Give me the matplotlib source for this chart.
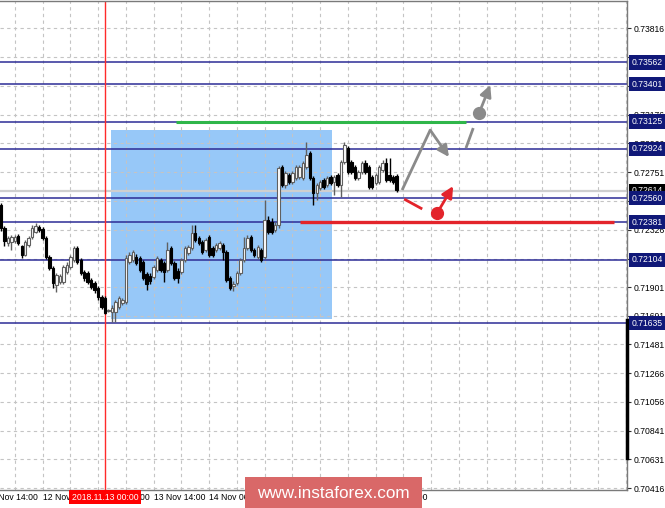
import numpy as np
import matplotlib
matplotlib.use('Agg')
import matplotlib.pyplot as plt
from matplotlib.patches import Rectangle

plt.rcParams['font.family'] = ['Liberation Sans', 'DejaVu Sans']

# hourly candles, x = hours from 2018.11.13 00:00
hours = np.arange(-30, 85)

opens = [0.72508, 0.72338, 0.72227, 0.72235, 0.72242, 0.72279, 0.72205, 0.72139, 0.72212, 0.72272,
         0.72309, 0.72345, 0.72331, 0.72264, 0.72124, 0.72042, 0.71917, 0.71939, 0.71939, 0.72013,
         0.72050, 0.72102, 0.72190, 0.72102, 0.72013, 0.72006, 0.71954, 0.71932, 0.71895, 0.71828,
         0.71821, 0.71725, 0.71717, 0.71717, 0.71754, 0.71784, 0.71791, 0.72087, 0.72102, 0.72124,
         0.72116, 0.72087, 0.71998, 0.71983, 0.71976, 0.72028, 0.72102, 0.72079, 0.72028, 0.72190,
         0.72079, 0.72020, 0.72013, 0.72102, 0.72153, 0.72190, 0.72301, 0.72264, 0.72235, 0.72175,
         0.72272, 0.72190, 0.72175, 0.72190, 0.72212, 0.72161, 0.71969, 0.71909, 0.71932, 0.72006,
         0.72102, 0.72190, 0.72272, 0.72175, 0.72124, 0.72175, 0.72124, 0.72397, 0.72382, 0.72323,
         0.72360, 0.72789, 0.72656, 0.72730, 0.72678, 0.72708, 0.72715, 0.72708, 0.72789, 0.72892,
         0.72708, 0.72597, 0.72634, 0.72693, 0.72656, 0.72715, 0.72678, 0.72730, 0.72656, 0.72826,
         0.72929, 0.72826, 0.72789, 0.72708, 0.72752, 0.72818, 0.72789, 0.72715, 0.72671, 0.72678,
         0.72767, 0.72818, 0.72730, 0.72715, 0.72722]
highs = [0.72523, 0.72353, 0.72279, 0.72286, 0.72286, 0.72294, 0.72212, 0.72249, 0.72279, 0.72360,
         0.72375, 0.72360, 0.72345, 0.72279, 0.72139, 0.72057, 0.72006, 0.71998, 0.72065, 0.72087,
         0.72139, 0.72205, 0.72205, 0.72116, 0.72028, 0.72020, 0.71969, 0.71946, 0.71909, 0.71843,
         0.71836, 0.71739, 0.71769, 0.71806, 0.71836, 0.71821, 0.72139, 0.72161, 0.72175, 0.72146,
         0.72131, 0.72102, 0.72013, 0.72006, 0.72065, 0.72131, 0.72116, 0.72094, 0.72235, 0.72205,
         0.72094, 0.72042, 0.72116, 0.72205, 0.72212, 0.72360, 0.72360, 0.72279, 0.72249, 0.72264,
         0.72286, 0.72205, 0.72227, 0.72242, 0.72227, 0.72175, 0.71983, 0.71946, 0.72020, 0.72116,
         0.72272, 0.72286, 0.72286, 0.72190, 0.72212, 0.72190, 0.72545, 0.72427, 0.72412, 0.72382,
         0.72796, 0.72804, 0.72759, 0.72745, 0.72759, 0.72804, 0.72804, 0.72833, 0.72974, 0.72907,
         0.72722, 0.72671, 0.72693, 0.72708, 0.72722, 0.72730, 0.72730, 0.72745, 0.72841, 0.72974,
         0.72944, 0.72841, 0.72804, 0.72767, 0.72833, 0.72841, 0.72804, 0.72730, 0.72745, 0.72804,
         0.72841, 0.72855, 0.72855, 0.72730, 0.72737]
lows = [0.72316, 0.72205, 0.72205, 0.72175, 0.72227, 0.72212, 0.72116, 0.72131, 0.72198, 0.72257,
        0.72301, 0.72309, 0.72249, 0.72109, 0.72028, 0.71895, 0.71865, 0.71924, 0.71924, 0.71998,
        0.72035, 0.72087, 0.72072, 0.71991, 0.71946, 0.71924, 0.71887, 0.71858, 0.71806, 0.71739,
        0.71703, 0.71717, 0.71643, 0.71643, 0.71739, 0.71769, 0.71776, 0.72072, 0.72087, 0.72065,
        0.72013, 0.71954, 0.71880, 0.71924, 0.71961, 0.72013, 0.72013, 0.71939, 0.72013, 0.72065,
        0.71954, 0.71932, 0.71998, 0.72087, 0.72139, 0.72175, 0.72235, 0.72212, 0.72146, 0.72161,
        0.72124, 0.72124, 0.72161, 0.72175, 0.72102, 0.71939, 0.71880, 0.71873, 0.71917, 0.71991,
        0.72087, 0.72175, 0.72161, 0.72124, 0.72109, 0.72087, 0.72109, 0.72294, 0.72294, 0.72309,
        0.72338, 0.72641, 0.72634, 0.72663, 0.72663, 0.72693, 0.72700, 0.72693, 0.72774, 0.72693,
        0.72508, 0.72545, 0.72619, 0.72626, 0.72641, 0.72656, 0.72582, 0.72641, 0.72567, 0.72811,
        0.72737, 0.72737, 0.72693, 0.72693, 0.72737, 0.72737, 0.72626, 0.72626, 0.72656, 0.72663,
        0.72752, 0.72678, 0.72678, 0.72663, 0.72604]
closes = [0.72338, 0.72242, 0.72264, 0.72272, 0.72272, 0.72227, 0.72139, 0.72235, 0.72264, 0.72338,
          0.72353, 0.72323, 0.72264, 0.72124, 0.72042, 0.71932, 0.71991, 0.71983, 0.72050, 0.72065,
          0.72124, 0.72190, 0.72087, 0.72006, 0.71969, 0.71939, 0.71902, 0.71880, 0.71828, 0.71754,
          0.71710, 0.71732, 0.71747, 0.71791, 0.71821, 0.71806, 0.72116, 0.72139, 0.72161, 0.72079,
          0.72028, 0.71969, 0.71924, 0.71946, 0.72050, 0.72116, 0.72028, 0.72013, 0.72175, 0.72079,
          0.71969, 0.71969, 0.72102, 0.72190, 0.72198, 0.72301, 0.72249, 0.72227, 0.72161, 0.72249,
          0.72139, 0.72139, 0.72212, 0.72227, 0.72161, 0.71954, 0.71895, 0.71924, 0.72006, 0.72102,
          0.72190, 0.72264, 0.72175, 0.72139, 0.72198, 0.72102, 0.72397, 0.72309, 0.72309, 0.72360,
          0.72781, 0.72656, 0.72745, 0.72678, 0.72745, 0.72789, 0.72789, 0.72818, 0.72878, 0.72708,
          0.72597, 0.72656, 0.72678, 0.72641, 0.72708, 0.72671, 0.72715, 0.72656, 0.72826, 0.72951,
          0.72752, 0.72752, 0.72708, 0.72752, 0.72818, 0.72752, 0.72641, 0.72641, 0.72730, 0.72789,
          0.72818, 0.72693, 0.72693, 0.72678, 0.72619]

levels = [0.73562, 0.73401, 0.73125, 0.72924, 0.72560, 0.72381, 0.72104, 0.71635]
bid = 0.72614

y_ticks = [0.73816, 0.73601, 0.73386, 0.73176, 0.72966, 0.72751, 0.72536, 0.72326, 0.72111,
           0.71901, 0.71691, 0.71481, 0.71266, 0.71056, 0.70841, 0.70631, 0.70416]
x_grid = np.arange(-26, 151, 8)
x_label_hours = [-34, -18, -2, 14, 30, 46, 62, 78]
x_labels = ['11 Nov 14:00', '12 Nov 06:00', '12 Nov 22:00', '13 Nov 14:00',
            '14 Nov 06:00', '14 Nov 22:00', '15 Nov 14:00', '16 Nov 06:00']

# drawn objects (hours, price)
box_hours = [1.7, 65.4]
box_prices = [0.71665, 0.73062]
green_hours = [20.5, 104.0]
green_price = 0.73125
red_hours = [56.2, 146.7]
red_price = 0.72381
grey_path_h = [85.6, 93.7]
grey_path_p = [0.72619, 0.73062]
grey_arrow1 = [(93.7, 0.73062), (99.1, 0.72863)]
grey_dash = [(104.0, 0.72929), (106.1, 0.73077)]
grey_arrow2 = [(107.8, 0.73188), (111.0, 0.73395)]
red_dash = [(86.2, 0.72552), (91.4, 0.72479)]
red_arrow = [(95.7, 0.72449), (100.3, 0.72648)]

navy = '#101878'
level_col = '#2c2c96'
grey_arrow = '#8a8a8a'
red = '#e3242b'

fig = plt.figure(figsize=(6.65, 5.08), dpi=100)
ax = fig.add_axes([0, 18 / 508, 627 / 665, 489 / 508])
ax.set_xlim(-30.26, 150.4)
ax.set_ylim(0.70402, 0.74016)

# grid
for y in y_ticks:
    ax.axhline(y, color='#c4c4c4', lw=0.8, ls=(0, (3, 3)), zorder=1.5)
for x in x_grid:
    ax.axvline(x, color='#c4c4c4', lw=0.8, ls=(0, (3, 3)), zorder=1.5)

# blue rectangle
ax.add_patch(Rectangle((box_hours[0], box_prices[0]), box_hours[1] - box_hours[0],
                       box_prices[1] - box_prices[0], facecolor='#97c8f8', edgecolor='none', zorder=1))

# level lines and current price line
ax.axhline(bid, color='#cfcfcf', lw=1.6, zorder=1.8)
for lv in levels:
    ax.axhline(lv, color=level_col, lw=1.1, zorder=2)
ax.axvline(0, color='#ff2a2a', lw=1.0, zorder=2)
ax.plot(green_hours, [green_price] * 2, color='#2fb64a', lw=2.2, zorder=2.2, solid_capstyle='butt')
ax.plot(red_hours, [red_price] * 2, color=red, lw=2.4, zorder=2.2, solid_capstyle='butt')

# candles
o = np.array(opens)
c = np.array(closes)
up = c >= o
ax.vlines(hours[up], np.array(lows)[up], np.array(highs)[up], color='#606060', lw=1.0, zorder=3)
ax.vlines(hours[~up], np.array(lows)[~up], np.array(highs)[~up], color='black', lw=1.0, zorder=3)
bottoms = np.minimum(o, c)
heights = np.maximum(np.abs(c - o), 0.00002)
ax.bar(hours[up], heights[up], bottom=bottoms[up], width=0.7, color='white',
       edgecolor='#606060', lw=0.8, zorder=3.2)
ax.bar(hours[~up], heights[~up], bottom=bottoms[~up], width=0.7, color='black',
       edgecolor='black', lw=0.8, zorder=3.2)

# forecast arrows
arrow_kw = dict(arrowstyle='-|>', lw=2, mutation_scale=17, shrinkA=0, shrinkB=0)
ax.plot(grey_path_h, grey_path_p, color=grey_arrow, lw=2, solid_capstyle='butt', zorder=4)
ax.annotate('', xy=grey_arrow1[1], xytext=grey_arrow1[0],
            arrowprops=dict(color=grey_arrow, **arrow_kw), zorder=4)
ax.plot([p[0] for p in grey_dash], [p[1] for p in grey_dash], color=grey_arrow, lw=2,
        solid_capstyle='butt', zorder=4)
ax.plot(*grey_arrow2[0], 'o', color=grey_arrow, ms=8.5, zorder=4)
ax.annotate('', xy=grey_arrow2[1], xytext=grey_arrow2[0],
            arrowprops=dict(color=grey_arrow, **arrow_kw), zorder=4)
ax.plot([p[0] for p in red_dash], [p[1] for p in red_dash], color=red, lw=2,
        solid_capstyle='butt', zorder=4)
ax.plot(*red_arrow[0], 'o', color=red, ms=8.5, zorder=4)
ax.annotate('', xy=red_arrow[1], xytext=red_arrow[0],
            arrowprops=dict(color=red, **arrow_kw), zorder=4)

# axes frame
ax.spines['left'].set_visible(False)
for side in ['top', 'right', 'bottom']:
    ax.spines[side].set_color('#7a7a7a')
    ax.spines[side].set_linewidth(1.0)

ax.yaxis.tick_right()
ax.set_yticks(y_ticks)
ax.set_yticklabels([f'{v:.5f}' for v in y_ticks])
ax.tick_params(axis='y', length=3, width=0.8, color='#303030', pad=2, labelsize=6.2)
ax.set_xticks([])

# scale bar on price axis
ax.plot([1.0, 1.0], [0.71660, 0.70640], transform=ax.get_yaxis_transform(),
        color='black', lw=2.5, clip_on=False, zorder=5)

# price labels
ytr = ax.get_yaxis_transform()
ax.text(1.008, bid, f'{bid:.5f}', transform=ytr, ha='left', va='center', fontsize=6.2,
        color='white', bbox=dict(boxstyle='square,pad=0.3', fc='black', ec='none'),
        clip_on=False, zorder=6)
for lv in levels:
    ax.text(1.008, lv, f'{lv:.5f}', transform=ytr, ha='left', va='center', fontsize=6.2,
            color='white', bbox=dict(boxstyle='square,pad=0.3', fc=navy, ec='none'),
            clip_on=False, zorder=7)

# time labels
xtr = ax.get_xaxis_transform()
for h, lab in zip(x_label_hours, x_labels):
    ax.text(h, -0.015, lab, transform=xtr, ha='left', va='center', fontsize=6.2,
            color='black', clip_on=False, zorder=6)
ax.text(0, -0.015, '2018.11.13 00:00', transform=xtr, ha='center', va='center', fontsize=6.2,
        color='white', bbox=dict(boxstyle='square,pad=0.3', fc='#ff0000', ec='none'),
        clip_on=False, zorder=7)

# watermark
fig.patches.append(Rectangle((245 / 665, 0), 177 / 665, 31 / 508, transform=fig.transFigure,
                             facecolor='#d96868', edgecolor='none', zorder=10))
fig.text(333 / 665, 14 / 508, 'www.instaforex.com', ha='center', va='center', fontsize=12.3,
         color='white', zorder=11)

fig.savefig('out.png', dpi=100)
